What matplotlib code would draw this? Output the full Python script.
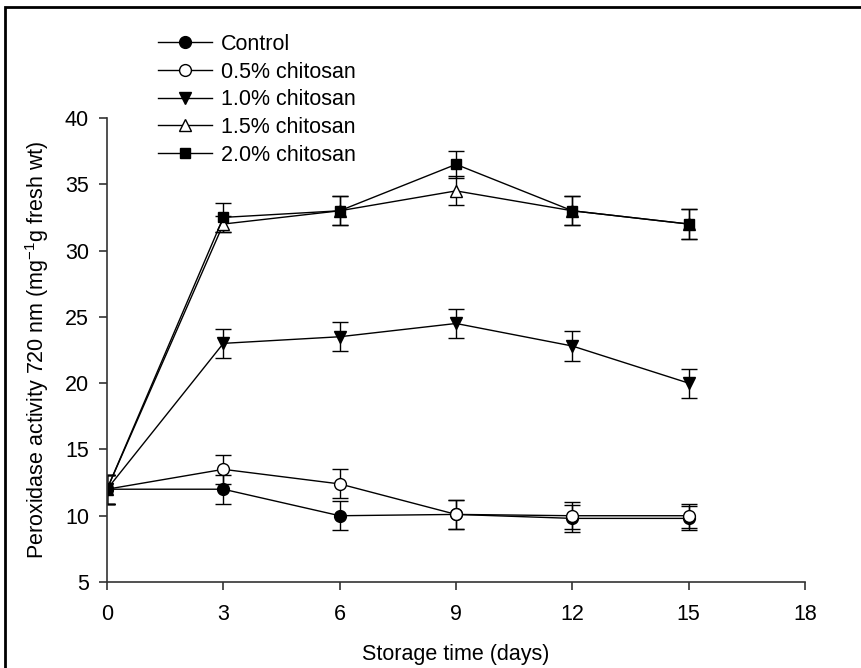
import matplotlib
matplotlib.use("Agg")
import matplotlib.pyplot as plt
from matplotlib.patches import Rectangle

plt.rcParams['font.family'] = ['Liberation Sans', 'DejaVu Sans']
plt.rcParams['mathtext.fontset'] = 'custom'
plt.rcParams['mathtext.rm'] = 'Liberation Sans'
plt.rcParams['mathtext.it'] = 'Liberation Sans'

days = [0, 3, 6, 9, 12, 15]

control = [12.0, 12.0, 10.0, 10.1, 9.8, 9.8]
chit_05 = [12.0, 13.5, 12.4, 10.1, 10.0, 10.0]
chit_10 = [12.0, 23.0, 23.5, 24.5, 22.8, 20.0]
chit_15 = [12.0, 32.0, 33.0, 34.5, 33.0, 32.0]
chit_20 = [12.0, 32.5, 33.0, 36.5, 33.0, 32.0]

err_control = [1.1, 1.1, 1.1, 1.1, 1.0, 0.9]
err_05 = [1.1, 1.1, 1.1, 1.1, 1.0, 0.9]
err_10 = [1.1, 1.1, 1.1, 1.1, 1.1, 1.1]
err_15 = [1.1, 0.6, 1.1, 1.1, 1.1, 1.1]
err_20 = [1.1, 1.1, 1.1, 1.0, 1.1, 1.1]

labels = ["Control", "0.5% chitosan", "1.0% chitosan", "1.5% chitosan", "2.0% chitosan"]

series = [
    (control, err_control, 'o', 'black'),
    (chit_05, err_05, 'o', 'white'),
    (chit_10, err_10, 'v', 'black'),
    (chit_15, err_15, '^', 'white'),
    (chit_20, err_20, 's', 'black'),
]

FS = 15.5

fig = plt.figure(figsize=(8.61, 6.68), dpi=100)
ax = fig.add_axes([0.1243, 0.1287, 0.8107, 0.6947])

for (vals, errs, mk, fc), lab in zip(series, labels):
    ax.errorbar(days, vals, yerr=errs, marker=mk, markerfacecolor=fc,
                markeredgecolor='black', color='black',
                markersize=8.5 if mk != 's' else 7.5,
                linewidth=1, elinewidth=1, capsize=6, capthick=1, label=lab)

ax.set_xlim(0, 18)
ax.set_ylim(5, 40)
ax.set_xticks([0, 3, 6, 9, 12, 15, 18])
ax.set_yticks([5, 10, 15, 20, 25, 30, 35, 40])
ax.spines['top'].set_visible(False)
ax.spines['right'].set_visible(False)
for s in ['left', 'bottom']:
    ax.spines[s].set_color('#333333')
    ax.spines[s].set_linewidth(1.2)
ax.tick_params(direction='out', length=6, width=1.2, labelsize=FS, color='#333333')
ax.tick_params(axis='x', pad=10)
ax.tick_params(axis='y', pad=7)

ax.set_xlabel("Storage time (days)", fontsize=FS, labelpad=13.5)
ax.set_ylabel("Peroxidase activity 720 nm (mg$^{-1}$g fresh wt)", fontsize=FS, labelpad=10)

handles, lbls = ax.get_legend_handles_labels()
handles = [h[0] for h in handles]
ax.legend(handles, lbls, loc='upper left', bbox_to_anchor=(0.073, 1.181),
          frameon=False, fontsize=FS, handlelength=2.5, handletextpad=0.42,
          labelspacing=0.31, borderaxespad=0, borderpad=0)

fig.patches.append(Rectangle((5 / 861, -0.1), 1.2, 1 - 7 / 668 + 0.1,
                             transform=fig.transFigure, fill=False,
                             edgecolor='black', linewidth=2))

fig.savefig("out.png", dpi=100)
